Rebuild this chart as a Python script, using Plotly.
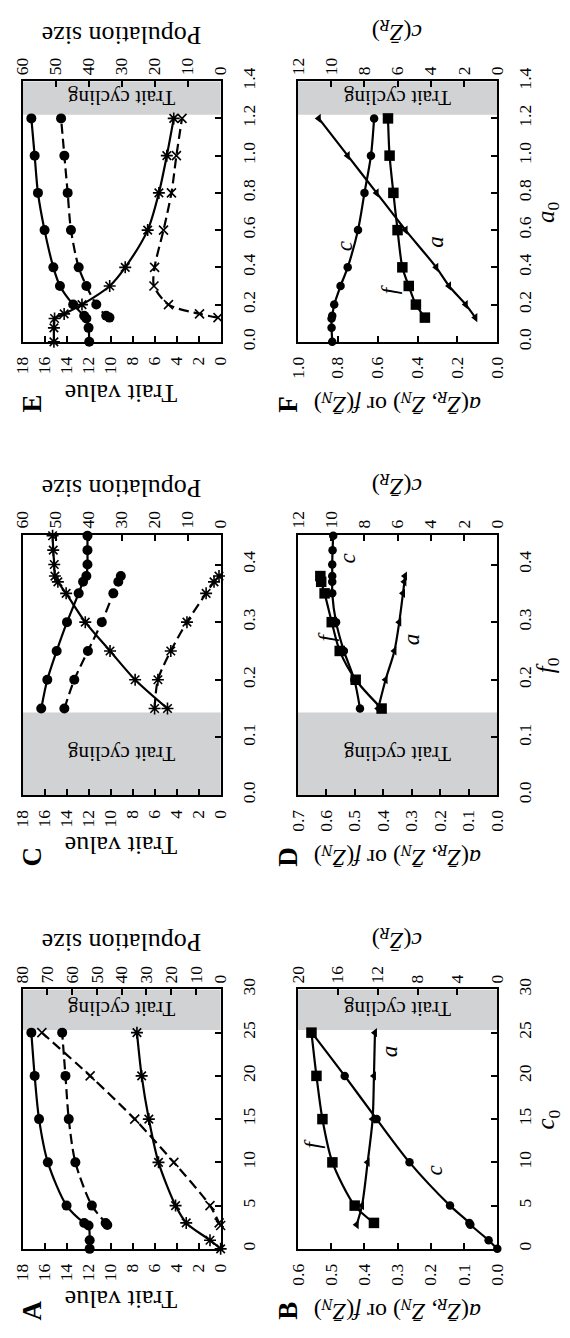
import plotly.graph_objects as go

W, H = 570, 1338
FONT = "Liberation Serif"

# ---------------- Panel A: varying c0 ----------------
A_trait_solid_c0 = [0, 1, 2.7, 3, 5, 10, 15, 20, 25]
A_trait_solid = [11.9, 11.9, 12.0, 12.4, 14.0, 15.7, 16.5, 16.9, 17.2]
A_trait_dash_c0 = [2.75, 3, 5, 10, 15, 20, 25]
A_trait_dash = [10.3, 10.45, 11.7, 13.2, 13.8, 14.1, 14.4]
A_pop_solid_c0 = [0, 1, 3, 5, 10, 15, 20, 25]
A_pop_solid = [0, 4.3, 13.9, 18.2, 25.1, 29.0, 31.9, 33.8]
A_pop_dash_c0 = [2.7, 3, 5, 10, 15, 20, 25]
A_pop_dash = [0, 0.6, 4.3, 18.9, 34.7, 52.7, 72.2]

# ---------------- Panel B: varying c0 ----------------
B_f_c0 = [3, 5, 10, 15, 20, 25]
B_f = [0.371, 0.429, 0.496, 0.526, 0.544, 0.559]
B_a_c0 = [2.8, 5, 10, 15, 20, 25]
B_a = [0.423, 0.407, 0.390, 0.375, 0.371, 0.368]
B_c_c0 = [0, 1, 2.8, 3, 5, 10, 15, 20, 25]
B_c = [0, 0.87, 2.7, 2.8, 4.74, 8.8, 12.1, 15.3, 18.6]

# ---------------- Panel C: varying f0 ----------------
C_trait_solid_f0 = [0.15, 0.2, 0.25, 0.3, 0.35, 0.37, 0.38, 0.4, 0.425, 0.45]
C_trait_solid = [16.3, 15.75, 14.9, 13.96, 12.9, 12.5, 12.2, 12.1, 12.1, 12.1]
C_trait_dash_f0 = [0.15, 0.2, 0.25, 0.3, 0.35, 0.37, 0.38]
C_trait_dash = [14.2, 13.3, 12.06, 10.8, 9.75, 9.3, 9.07]
C_pop_solid_f0 = [0.15, 0.2, 0.25, 0.3, 0.35, 0.37, 0.38, 0.4, 0.425, 0.45]
C_pop_solid = [16.1, 25.9, 33.5, 41.0, 46.8, 49.3, 50.2, 50.4, 50.7, 50.9]
C_pop_dash_f0 = [0.15, 0.2, 0.25, 0.3, 0.35, 0.37, 0.38]
C_pop_dash = [20.0, 19.0, 15.1, 10.2, 4.4, 2.0, 0.5]

# ---------------- Panel D: varying f0 ----------------
D_c_f0 = [0.15, 0.2, 0.25, 0.3, 0.35, 0.37, 0.38, 0.4, 0.425, 0.45]
D_c = [8.26, 8.6, 9.23, 9.7, 9.93, 9.93, 9.93, 9.93, 9.91, 9.87]
D_f_f0 = [0.15, 0.2, 0.25, 0.3, 0.35, 0.37, 0.38]
D_f = [0.406, 0.497, 0.553, 0.581, 0.606, 0.618, 0.621]
D_a_f0 = [0.15, 0.2, 0.25, 0.3, 0.35, 0.37, 0.38]
D_a = [0.418, 0.392, 0.361, 0.344, 0.331, 0.326, 0.324]

# ---------------- Panel E: varying a0 ----------------
E_trait_solid_a0 = [0, 0.075, 0.125, 0.14, 0.2, 0.3, 0.4, 0.6, 0.8, 1.0, 1.2]
E_trait_solid = [11.94, 12.0, 12.2, 12.4, 13.4, 14.6, 15.2, 16.0, 16.6, 16.9, 17.2]
E_trait_dash_a0 = [0.13, 0.14, 0.2, 0.3, 0.4, 0.6, 0.8, 1.0, 1.2]
E_trait_dash = [10.1, 10.4, 11.3, 12.2, 12.9, 13.6, 13.9, 14.2, 14.5]
E_pop_solid_a0 = [0, 0.075, 0.125, 0.15, 0.2, 0.3, 0.4, 0.6, 0.8, 1.0, 1.2]
E_pop_solid = [50.5, 50.5, 50.3, 47.4, 42.0, 33.6, 28.9, 22.1, 18.7, 16.3, 14.2]
E_pop_dash_a0 = [0.13, 0.15, 0.2, 0.3, 0.4, 0.6, 0.8, 1.0, 1.2]
E_pop_dash = [0.8, 6.4, 15.8, 20.2, 20.0, 17.3, 14.9, 13.4, 11.7]

# ---------------- Panel F: varying a0 ----------------
F_c_a0 = [0, 0.075, 0.125, 0.14, 0.2, 0.3, 0.4, 0.6, 0.8, 1.0, 1.2]
F_c = [9.93, 9.97, 9.97, 9.93, 9.81, 9.43, 9.0, 8.38, 7.99, 7.6, 7.41]
F_f_a0 = [0.13, 0.2, 0.3, 0.4, 0.6, 0.8, 1.0, 1.2]
F_f = [0.363, 0.408, 0.444, 0.476, 0.5, 0.521, 0.54, 0.548]
F_a_a0 = [0.13, 0.2, 0.3, 0.4, 0.6, 0.8, 1.0, 1.2]
F_a = [0.11, 0.158, 0.242, 0.306, 0.46, 0.605, 0.75, 0.895]

# Parameter ranges where the traits cycle (shaded bands)
A_cycle = [25.3, 30]
C_cycle = [0, 0.143]
E_cycle = [1.22, 1.4]

# Axis scales for each panel
A_axes = dict(bmax=18, bdt=2, bfmt="d", tmax=80, tdt=10, vmax=30, vdt=5, vfmt="d")
B_axes = dict(bmax=0.6, bdt=0.1, bfmt=".1f", tmax=20, tdt=4, vmax=30, vdt=5, vfmt="d")
C_axes = dict(bmax=18, bdt=2, bfmt="d", tmax=60, tdt=10, vmax=0.452, vdt=0.1, vfmt=".1f")
D_axes = dict(bmax=0.7, bdt=0.1, bfmt=".1f", tmax=12, tdt=2, vmax=0.452, vdt=0.1, vfmt=".1f")
E_axes = dict(bmax=18, bdt=2, bfmt="d", tmax=60, tdt=10, vmax=1.4, vdt=0.2, vfmt=".1f")
F_axes = dict(bmax=1.0, bdt=0.2, bfmt=".1f", tmax=12, tdt=2, vmax=1.4, vdt=0.2, vfmt=".1f")

# Panel boxes in pixels: (left, right) and (top, bottom)
COLS = [(13.0, 218.3), (298.3, 505.0)]
ROWS = [(991.7, 1255.5), (529.3, 794.0), (68.3, 333.3)]

circle = dict(symbol="circle", size=10, color="black")
circle_s = dict(symbol="circle", size=8.5, color="black")
square = dict(symbol="square", size=10.5, color="black")
tri = dict(symbol="triangle-left", size=8, color="black")
star = dict(symbol="asterisk-open", size=10, color="black", line=dict(color="black", width=1.6))
cross = dict(symbol="x-thin-open", size=9, color="black", line=dict(color="black", width=1.6))

DASH = "10px,5px"

# (label, col, row, axes, cycle band, traces)
# each trace: (param values, values, on top axis?, dashed?, marker)
panels = [
    ("A", 0, 0, A_axes, A_cycle, [
        (A_pop_dash_c0, A_pop_dash, True, True, cross),
        (A_pop_solid_c0, A_pop_solid, True, False, star),
        (A_trait_dash_c0, A_trait_dash, False, True, circle),
        (A_trait_solid_c0, A_trait_solid, False, False, circle),
    ]),
    ("B", 1, 0, B_axes, A_cycle, [
        (B_c_c0, B_c, True, False, circle_s),
        (B_a_c0, B_a, False, False, tri),
        (B_f_c0, B_f, False, False, square),
    ]),
    ("C", 0, 1, C_axes, C_cycle, [
        (C_pop_dash_f0, C_pop_dash, True, True, star),
        (C_pop_solid_f0, C_pop_solid, True, False, star),
        (C_trait_dash_f0, C_trait_dash, False, True, circle),
        (C_trait_solid_f0, C_trait_solid, False, False, circle),
    ]),
    ("D", 1, 1, D_axes, C_cycle, [
        (D_c_f0, D_c, True, False, circle_s),
        (D_a_f0, D_a, False, False, tri),
        (D_f_f0, D_f, False, False, square),
    ]),
    ("E", 0, 2, E_axes, E_cycle, [
        (E_pop_dash_a0, E_pop_dash, True, True, cross),
        (E_pop_solid_a0, E_pop_solid, True, False, star),
        (E_trait_dash_a0, E_trait_dash, False, True, circle),
        (E_trait_solid_a0, E_trait_solid, False, False, circle),
    ]),
    ("F", 1, 2, F_axes, E_cycle, [
        (F_c_a0, F_c, True, False, circle_s),
        (F_a_a0, F_a, False, False, tri),
        (F_f_a0, F_f, False, False, square),
    ]),
]

# Curve labels for the right-hand panels: (panel, text, param, value on bottom axis)
curve_labels = [
    (1, "f", 12.2, 0.557), (1, "c", 9.1, 0.189), (1, "a", 22.8, 0.324),
    (3, "f", 0.275, 0.598), (3, "c", 0.41, 0.525), (3, "a", 0.27, 0.30),
    (5, "c", 0.51, 0.766), (5, "f", 0.28, 0.54), (5, "a", 0.54, 0.31),
]

param_titles = {1: "<i>c</i><sub>0</sub>", 3: "<i>f</i><sub>0</sub>", 5: "<i>a</i><sub>0</sub>"}

ZR = "<i>Z̄</i><sub><i>R</i></sub>"
ZN = "<i>Z̄</i><sub><i>N</i></sub>"
LEFT_TITLE_RIGHTCOL = f"<i>a</i>({ZR}, {ZN}) or <i>f</i>({ZN})"
TOP_TITLE_RIGHTCOL = f"<i>c</i>({ZR})"


def ref(kind, n):
    return kind if n == 1 else f"{kind}{n}"


def px(x):
    return x / W


def py(y):
    return 1 - y / H


def label(x, y, text, size, angle, bold=False, xref="paper", yref="paper"):
    return dict(xref=xref, yref=yref, x=x, y=y, xanchor="center", yanchor="middle",
                text=f"<b>{text}</b>" if bold else text, showarrow=False,
                textangle=angle, font=dict(family=FONT, size=size, color="black"))


fig = go.Figure()
layout = {}
annotations = []
shapes = []

tick_common = dict(
    ticks="inside", ticklen=6, tickwidth=1.5, tickcolor="black",
    showgrid=False, zeroline=False, tickangle=-90,
    tickfont=dict(family=FONT, size=17.5, color="black"),
)

for i, (letter, col, row, ax, band, traces) in enumerate(panels):
    nb, nt, ny = 2 * i + 1, 2 * i + 2, i + 1
    xb, xt, yy = ref("x", nb), ref("x", nt), ref("y", ny)
    l, r = COLS[col]
    t, b = ROWS[row]

    layout[ref("xaxis", nb)] = dict(
        domain=[px(l), px(r)], anchor=yy, range=[ax["bmax"], 0],
        tick0=0, dtick=ax["bdt"], tickformat=ax["bfmt"],
        showline=True, linewidth=2, linecolor="black", mirror=True,
        ticklabelstandoff=6, **tick_common)
    layout[ref("xaxis", nt)] = dict(
        overlaying=xb, side="top", anchor=yy, range=[ax["tmax"], 0],
        tick0=0, dtick=ax["tdt"], showline=False,
        ticklabelstandoff=5, **tick_common)
    layout[ref("yaxis", ny)] = dict(
        domain=[py(b), py(t)], anchor=xb, side="right", range=[0, ax["vmax"]],
        tick0=0, dtick=ax["vdt"], tickformat=ax["vfmt"],
        showline=True, linewidth=2, linecolor="black", mirror=True,
        ticklabelstandoff=11, **tick_common)

    # shaded band where the traits cycle
    shapes.append(dict(type="rect", xref=f"{xb} domain", yref=yy, x0=0, x1=1,
                       y0=band[0], y1=band[1], fillcolor="#d1d2d4",
                       line=dict(width=0), layer="below"))
    annotations.append(label(0.5, (band[0] + band[1]) / 2, "Trait cycling", 21, 180,
                             xref=f"{xb} domain", yref=yy))

    for pv, vals, on_top, dashed, mk in traces:
        fig.add_trace(go.Scatter(
            x=vals, y=pv, xaxis=xt if on_top else xb, yaxis=yy,
            mode="lines+markers",
            line=dict(color="black", width=2.2, shape="spline", smoothing=0.8,
                      dash=DASH if dashed else "solid"),
            marker=mk, showlegend=False, cliponaxis=False))

    # axis titles
    cx = (l + r) / 2
    if col == 0:
        annotations.append(label(px(cx), py(b + 52), "Trait value", 26, 180))
        annotations.append(label(px(cx), py(t - 47), "Population size", 26, 180))
        lx = 22.5
    else:
        annotations.append(label(px(cx), py(b + 62), LEFT_TITLE_RIGHTCOL, 24, 180))
        annotations.append(label(px(cx), py(t - 51), TOP_TITLE_RIGHTCOL, 24, 180))
        annotations.append(label(px(557), py((t + b) / 2), param_titles[i], 25, -90))
        lx = 288
    annotations.append(label(px(lx), py(b + 63), letter, 27, -90, bold=True))

for i, txt, pv, val in curve_labels:
    annotations.append(label(val, pv, f"<i>{txt}</i>", 23, -90,
                             xref=ref("x", 2 * i + 1), yref=ref("y", i + 1)))

fig.update_layout(
    width=W, height=H, margin=dict(l=0, r=0, t=0, b=0),
    paper_bgcolor="white", plot_bgcolor="rgba(0,0,0,0)",
    font=dict(family=FONT, color="black"),
    annotations=annotations, shapes=shapes, **layout)

fig.write_html("out.html")
